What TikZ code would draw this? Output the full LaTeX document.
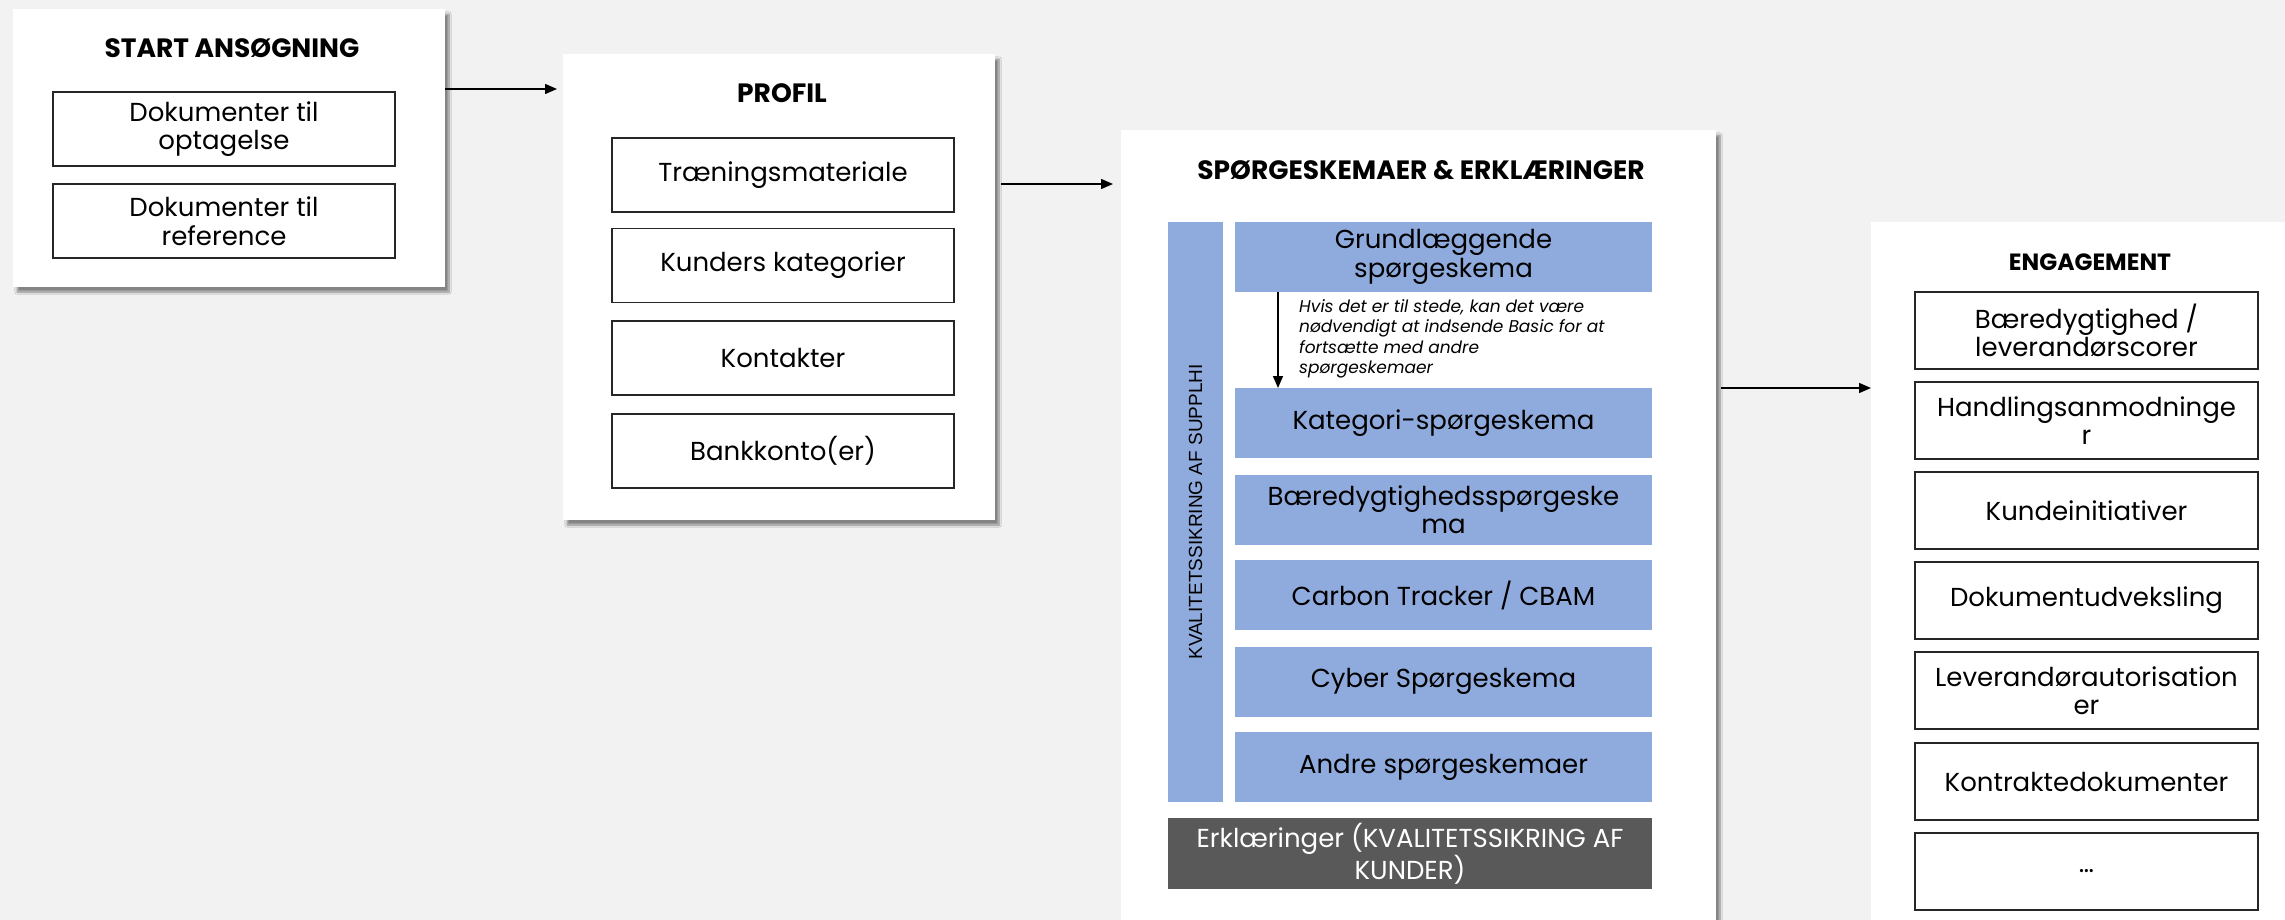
\documentclass[tikz,border=0pt]{standalone}
\usepackage{fontspec}
\setmainfont{Poppins}
\newfontfamily\vfont{Liberation Sans}
\usetikzlibrary{arrows.meta,shadows.blur}
\definecolor{bgc}{HTML}{F2F2F2}
\definecolor{blu}{HTML}{8FAADC}
\definecolor{dgr}{HTML}{595959}
\tikzset{
  panel/.style={fill=white, inner sep=0pt, outer sep=0pt,
    blur shadow={shadow xshift=4pt, shadow yshift=-5pt, shadow blur steps=8, shadow opacity=45}},
  ttl/.style={font=\fontsize{26.5}{30}\selectfont\bfseries, inner sep=0pt},
  wbox/.style={draw=black!85, line width=1.5pt, fill=white, inner sep=0pt, outer sep=0pt,
    minimum width=342pt, minimum height=74pt, align=center, font=\fontsize{26}{28.5}\selectfont},
  bbox/.style={fill=blu, inner sep=0pt, outer sep=0pt,
    minimum width=417pt, minimum height=70pt, align=center, font=\fontsize{26}{28.5}\selectfont},
  ebox/.style={wbox, minimum width=343pt, minimum height=77pt},
  arr/.style={line width=1.5pt, -{Triangle[length=12pt,width=10pt]}},
}
\begin{document}
\begin{tikzpicture}[x=1pt,y=-1pt]
\useasboundingbox (0,0) rectangle (2285,920);
\fill[bgc] (0,0) rectangle (2285,920);
% panels
\node[panel, minimum width=432pt, minimum height=278pt] (p1) at (229,148) {};
\node[panel, minimum width=432pt, minimum height=466pt] (p2) at (779,287) {};
\node[panel, minimum width=595pt, minimum height=810pt] (p3) at (1418.5,535) {};
\node[panel, minimum width=429pt, minimum height=718pt] (p4) at (2085.5,581) {};
% titles
\node[ttl] (t1) at (232,48) {START ANSØGNING};
\node[ttl] (t2) at (782,93) {PROFIL};
\node[ttl] (t3) at (1421,170) {SPØRGESKEMAER \& ERKLÆRINGER};
\node[ttl, font=\fontsize{23.5}{27}\selectfont\bfseries] (t4) at (2090,262) {ENGAGEMENT};
% panel 1
\node[wbox] (a1) at (224,129) {Dokumenter til\\optagelse};
\node[wbox] (a2) at (224,221) {Dokumenter til\\reference};
% panel 2
\node[wbox] (b1) at (783,175) {Træningsmateriale};
\node[wbox] (b2) at (783,265.5) {Kunders kategorier};
\node[wbox] (b3) at (783,358) {Kontakter};
\node[wbox] (b4) at (783,451) {Bankkonto(er)};
% panel 3
\node[fill=blu, inner sep=0pt, minimum width=55pt, minimum height=580pt] (bar) at (1195.5,512) {};
\node[rotate=90, font=\vfont\fontsize{19}{22}\selectfont, inner sep=0pt] (bart) at (bar.center) {KVALITETSSIKRING AF SUPPLHI};
\node[bbox] (c1) at (1443.5,257) {Grundlæggende\\spørgeskema};
\node[bbox] (c2) at (1443.5,423) {Kategori-spørgeskema};
\node[bbox] (c3) at (1443.5,509.5) {Bæredygtighedsspørgeske\\ma};
\node[bbox] (c4) at (1443.5,595) {Carbon Tracker / CBAM};
\node[bbox] (c5) at (1443.5,681.5) {Cyber Spørgeskema};
\node[bbox] (c6) at (1443.5,767) {Andre spørgeskemaer};
\node[fill=dgr, text=white, inner sep=0pt, minimum width=484pt, minimum height=71pt, align=center,
  font=\fontsize{26}{28.5}\selectfont] (d1) at (1410,853.5) {Erklæringer (KVALITETSSIKRING AF\\KUNDER)};
\node[anchor=west, align=left, inner sep=0pt, font=\fontsize{17}{20.5}\selectfont\itshape] (note) at (1299,339)
  {Hvis det er til stede, kan det være\\nødvendigt at indsende Basic for at\\fortsætte med andre\\spørgeskemaer};
\draw[arr] (c1.south -| 1278,0) -- (c2.north -| 1278,0);
% panel 4
\node[ebox] (e1) at (2086.5,330.5) {Bæredygtighed /\\leverandørscorer};
\node[ebox] (e2) at (2086.5,420.5) {Handlingsanmodninge\\r};
\node[ebox] (e3) at (2086.5,510.5) {Kundeinitiativer};
\node[ebox] (e4) at (2086.5,600.5) {Dokumentudveksling};
\node[ebox] (e5) at (2086.5,690.5) {Leverandørautorisation\\er};
\node[ebox] (e6) at (2086.5,781.5) {Kontraktedokumenter};
\node[ebox] (e7) at (2086.5,871.5) {…};
% connectors
\draw[arr, shorten >=6pt] (p1.east |- 0,89) -- (p2.west |- 0,89);
\draw[arr, shorten <=6pt, shorten >=8pt] (p2.east |- 0,184) -- (p3.west |- 0,184);
\draw[arr, shorten <=5pt] (p3.east |- 0,388) -- (p4.west |- 0,388);
\end{tikzpicture}
\end{document}
